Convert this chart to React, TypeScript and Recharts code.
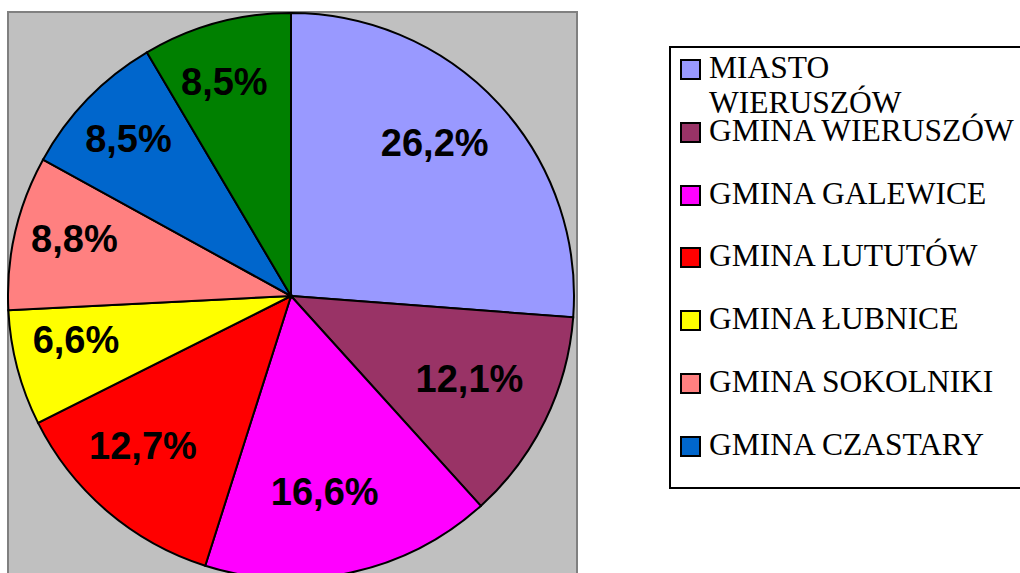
import React from 'react';
import { PieChart, Pie, Cell, Legend } from 'recharts';

const names = [
  'MIASTO WIERUSZÓW',
  'GMINA WIERUSZÓW',
  'GMINA GALEWICE',
  'GMINA LUTUTÓW',
  'GMINA ŁUBNICE',
  'GMINA SOKOLNIKI',
  'GMINA CZASTARY',
  'GMINA BOLESŁAWIEC',
];
const shares = [26.2, 12.1, 16.6, 12.7, 6.6, 8.8, 8.5, 8.5];
const colors = ['#9999FF', '#993366', '#FF00FF', '#FF0000', '#FFFF00', '#FF8080', '#0066CC', '#008000'];
// the last entry is cut off from the legend box in the original
const legendNames = names.slice(0, 7);

const data = names.map((name, i) => ({ name, value: shares[i] }));

const RAD = Math.PI / 180;

const renderLabel = (props: any) => {
  const { cx, cy, midAngle, value } = props;
  const r = 211;
  const x = cx + r * Math.cos(-midAngle * RAD) - 11;
  const y = cy + r * Math.sin(-midAngle * RAD) - 10;
  return (
    <text
      x={x}
      y={y}
      textAnchor="middle"
      dominantBaseline="central"
      fill="#000"
      style={{ fontFamily: '"Liberation Sans", Arial, sans-serif', fontWeight: 'bold', fontSize: 38 }}
    >
      {value.toFixed(1).replace('.', ',')}%
    </text>
  );
};

const renderLegend = () => (
  <div
    style={{
      position: 'relative',
      width: 400,
      height: 443,
      border: '2px solid #000',
      boxSizing: 'border-box',
      background: '#fff',
      fontFamily: '"Liberation Serif", "Times New Roman", serif',
      fontSize: 31.5,
      color: '#000',
    }}
  >
    {legendNames.map((name, i) => (
      <div key={name} style={{ position: 'absolute', left: 0, top: 2 + i * 62.8 }}>
        <div
          style={{
            position: 'absolute',
            left: 9,
            top: 9,
            width: 21,
            height: 21,
            boxSizing: 'border-box',
            border: '2px solid #000',
            background: colors[names.indexOf(name)],
          }}
        />
        <div style={{ position: 'absolute', left: 38, top: 0, width: 312, lineHeight: '35px' }}>{name}</div>
      </div>
    ))}
  </div>
);

export default function App() {
  return (
    <div style={{ position: 'absolute', left: 0, top: 0, width: 1020, height: 573, overflow: 'hidden', background: '#fff' }}>
      <div
        style={{
          position: 'absolute',
          left: 7,
          top: 11,
          width: 571,
          height: 620,
          background: '#C0C0C0',
          border: '2px solid #808080',
          boxSizing: 'border-box',
        }}
      />
      <PieChart
        width={1020}
        height={573}
        margin={{ top: 0, right: 0, bottom: 0, left: 0 }}
        style={{ position: 'absolute', left: 0, top: 0 }}
      >
        <Pie
          data={data}
          dataKey="value"
          nameKey="name"
          cx={291}
          cy={296}
          outerRadius={283}
          startAngle={90}
          endAngle={-270}
          stroke="#000"
          strokeWidth={2}
          label={renderLabel}
          labelLine={false}
          isAnimationActive={false}
        >
          {data.map((d, i) => (
            <Cell key={d.name} fill={colors[i]} />
          ))}
        </Pie>
        <Legend
          content={renderLegend}
          layout="vertical"
          align="right"
          verticalAlign="top"
          wrapperStyle={{ position: 'absolute', left: 669, top: 46, width: 400, height: 443 }}
        />
      </PieChart>
    </div>
  );
}
